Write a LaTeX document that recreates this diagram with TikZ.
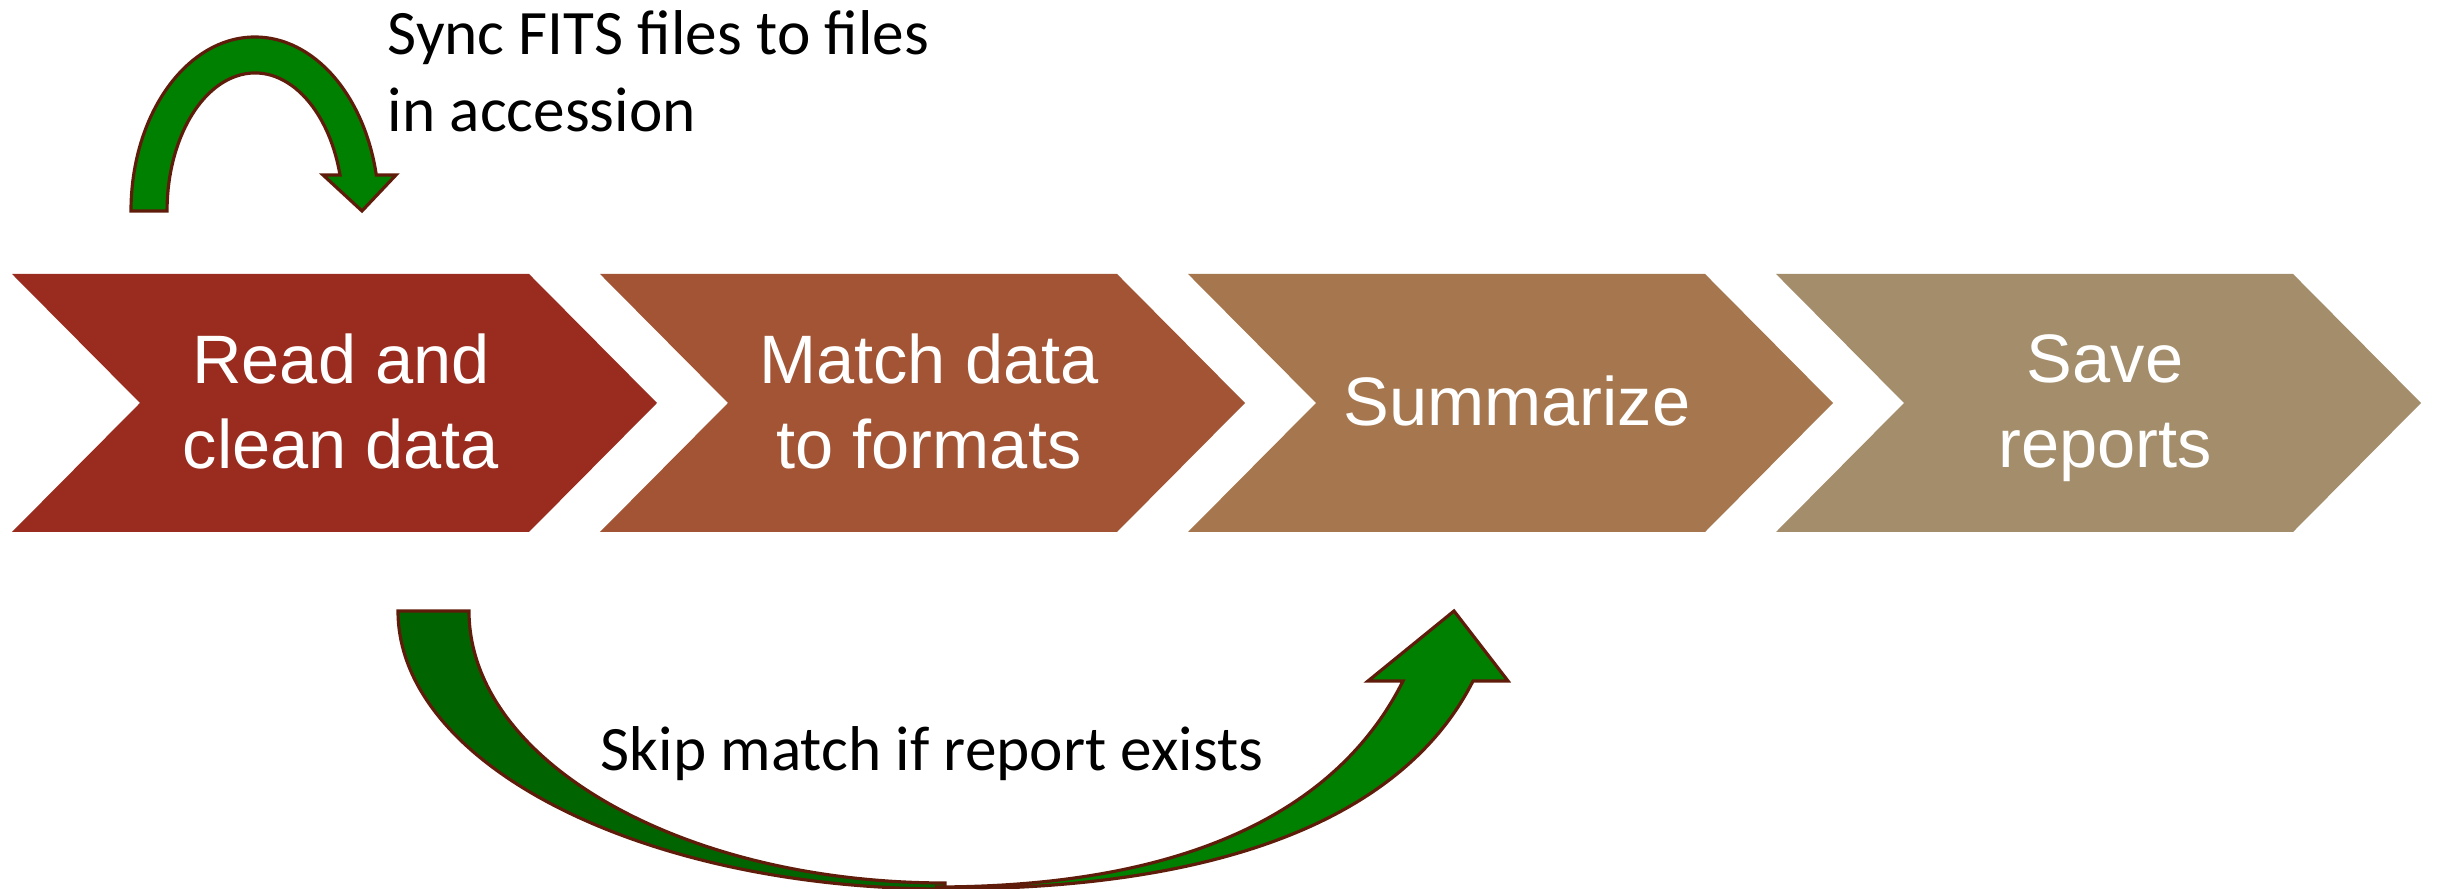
\documentclass[tikz,border=0pt]{standalone}
\usepackage{fontspec}
\usepackage{tikz}
\usetikzlibrary{calc}
\newfontfamily\chevfont{Liberation Sans}
\newfontfamily\notefont{Carlito}
\definecolor{chevA}{RGB}{154,44,31}
\definecolor{chevB}{RGB}{162,84,53}
\definecolor{chevC}{RGB}{166,119,78}
\definecolor{chevD}{RGB}{163,141,107}
\definecolor{arrowline}{RGB}{96,28,10}
\definecolor{arrowgreen}{RGB}{0,128,0}
\definecolor{arrowdark}{RGB}{0,100,0}

\begin{document}
\begin{tikzpicture}[x=0.01cm,y=0.01cm,
    chevron text/.style={text=white,align=center,inner sep=0pt,text depth=0pt,
      font=\chevfont\fontsize{19.5}{24}\selectfont},
    note/.style={align=left,inner sep=0pt,font=\notefont\fontsize{18}{22}\selectfont},
    block arrow/.style={draw=arrowline,line width=0.9pt,line join=miter}]
    \useasboundingbox (0,0) rectangle (2440,889);

    % the four steps
    \foreach \i/\col/\txt in {0/chevA/{Read and\\clean data},1/chevB/{Match data\\to formats},
        2/chevC/{Summarize},3/chevD/{Save\\reports}} {
      \pgfmathsetmacro{\L}{12+588*\i}
      \fill[\col] (\L,615) -- ++(517,0) -- ++(128,-129) -- ++(-128,-129) -- ++(-517,0) -- ++(128,129) -- cycle;
      \node[chevron text] (chev\i) at (\L+329,488) {\txt};
    }

    % loop over the first step
    \draw[block arrow,fill=arrowgreen] (131,678) arc[start angle=180,end angle=11.94,x radius=124,y radius=174]
      -- (396,714) -- (362,678) -- (323,714) -- (340,714)
      arc[start angle=15.12,end angle=180,x radius=88,y radius=138] -- cycle;
    \node[note,anchor=west] (sync) at (387,818) {Sync FITS files to files\\in accession};

    % jump from step 1 to step 3
    \draw[block arrow,fill=arrowdark] (398,278) arc[start angle=180,end angle=270,x radius=547,y radius=278]
      -- (945,6) arc[start angle=270,end angle=180,x radius=476,y radius=272] -- cycle;
    \draw[block arrow,fill=arrowgreen] (935,2) .. controls (1215,2) and (1347,96) .. (1403,208)
      -- (1368,208) -- (1454,278) -- (1508,208) -- (1473,208)
      .. controls (1410,83) and (1245,0) .. (945,0) -- cycle;
    \node[note,anchor=base west] (skip) at (600,118) {Skip match if report exists};
\end{tikzpicture}
\end{document}
